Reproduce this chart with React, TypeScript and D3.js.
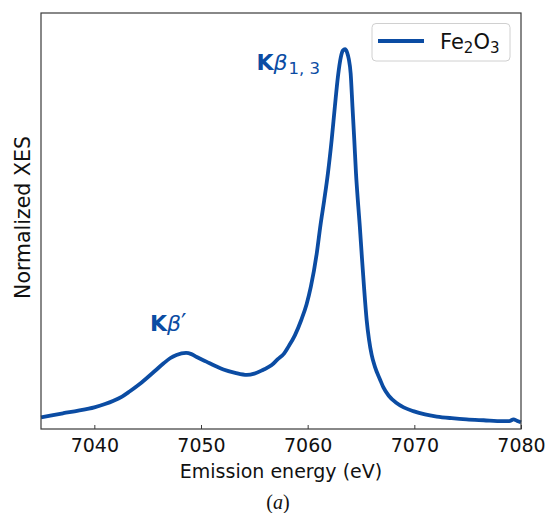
import React, { useEffect, useRef } from 'react';
import * as d3 from 'd3';

// emission energy (eV) and normalized intensity
const energy = [
  7035.0, 7036.0, 7037.1, 7038.5, 7040.0, 7041.0, 7041.8, 7042.6, 7043.3, 7044.1,
  7044.9, 7045.7, 7046.5, 7047.1, 7047.7, 7048.6, 7049.1, 7049.6, 7050.5, 7051.3,
  7052.1, 7053.2, 7054.3, 7055.0, 7055.8, 7056.6, 7057.2, 7057.8, 7058.2, 7058.8,
  7059.4, 7059.9, 7060.3, 7060.85, 7061.2, 7061.55, 7061.9, 7062.25, 7062.55, 7062.85,
  7063.1, 7063.3, 7063.5, 7063.7, 7063.85, 7064.03, 7064.2, 7064.37, 7064.53, 7064.75,
  7064.88, 7065.06, 7065.28, 7065.53, 7065.75, 7066.0, 7066.3, 7066.8, 7067.1, 7067.6,
  7068.3, 7069.0, 7069.9, 7071.0, 7072.1, 7073.5, 7074.9, 7076.5, 7078.3, 7078.9,
  7079.3, 7079.6, 7080.0,
];
const intensity = [
  0.028, 0.033, 0.038, 0.044, 0.052, 0.060, 0.068, 0.078, 0.090, 0.105,
  0.122, 0.140, 0.158, 0.170, 0.178, 0.183, 0.180, 0.173, 0.162, 0.152,
  0.143, 0.135, 0.130, 0.133, 0.142, 0.153, 0.168, 0.182, 0.198, 0.225,
  0.262, 0.300, 0.342, 0.422, 0.490, 0.550, 0.615, 0.695, 0.775, 0.850,
  0.893, 0.910, 0.913, 0.905, 0.890, 0.855, 0.775, 0.695, 0.615, 0.534,
  0.490, 0.422, 0.342, 0.262, 0.215, 0.178, 0.150, 0.118, 0.100, 0.080,
  0.063, 0.052, 0.043, 0.035, 0.030, 0.026, 0.023, 0.021, 0.019, 0.019,
  0.023, 0.020, 0.016,
];
const xTicks = [7040, 7050, 7060, 7070, 7080];

const BLUE = '#0b4ca3';
const FONT = 'DejaVu Sans, sans-serif';

const App = () => {
  const svgRef = useRef<SVGSVGElement>(null);

  useEffect(() => {
    const svg = d3.select(svgRef.current);
    svg.selectAll('*').remove();

    const margin = { top: 13, right: 25, bottom: 84, left: 41 };
    const W = 546, H = 513;
    const width = W - margin.left - margin.right;
    const height = H - margin.top - margin.bottom;

    const x = d3.scaleLinear().domain([7035, 7080]).range([0, width]);
    const y = d3.scaleLinear().domain([0, 1]).range([height, 0]);

    const g = svg.append('g').attr('transform', `translate(${margin.left},${margin.top})`);

    const pts = energy.map((e, i) => [e, intensity[i]] as [number, number]);
    g.append('path')
      .datum(pts)
      .attr('fill', 'none')
      .attr('stroke', BLUE)
      .attr('stroke-width', 3.8)
      .attr('stroke-linejoin', 'round')
      .attr('d', d3.line<[number, number]>()
        .x(d => x(d[0]))
        .y(d => y(d[1]))
        .curve(d3.curveMonotoneX));

    // frame
    g.append('rect')
      .attr('width', width).attr('height', height)
      .attr('fill', 'none').attr('stroke', '#3a3a3a').attr('stroke-width', 1.2);

    // x axis, ticks pointing inward
    const xAxis = g.append('g')
      .attr('transform', `translate(0,${height})`)
      .call(d3.axisBottom(x).tickValues(xTicks).tickSizeInner(-4).tickSizeOuter(0).tickPadding(10).tickFormat(d3.format('d')));
    xAxis.select('.domain').remove();
    xAxis.selectAll('line').attr('stroke', '#3a3a3a').attr('stroke-width', 1);
    xAxis.selectAll('text')
      .attr('font-family', FONT).attr('font-size', 19).attr('fill', '#111');

    // axis titles
    svg.append('text')
      .attr('x', 281).attr('y', 478)
      .attr('text-anchor', 'middle')
      .attr('font-family', FONT).attr('font-size', 19).attr('fill', '#111')
      .text('Emission energy (eV)');

    svg.append('text')
      .attr('transform', 'translate(29.5,217.5) rotate(-90)')
      .attr('text-anchor', 'middle')
      .attr('font-family', FONT).attr('font-size', 20.5).attr('fill', '#111')
      .text('Normalized XES');

    // legend
    const lg = svg.append('g');
    lg.append('rect')
      .attr('x', 372).attr('y', 23.5).attr('width', 138).attr('height', 37.5)
      .attr('rx', 4).attr('fill', '#fff').attr('fill-opacity', 0.8)
      .attr('stroke', '#d0d0d0').attr('stroke-width', 1);
    lg.append('line')
      .attr('x1', 378).attr('x2', 424).attr('y1', 41).attr('y2', 41)
      .attr('stroke', BLUE).attr('stroke-width', 3.8);
    const lt = lg.append('text')
      .attr('x', 440).attr('y', 49)
      .attr('font-family', FONT).attr('font-size', 21).attr('fill', '#111');
    lt.append('tspan').text('Fe');
    lt.append('tspan').attr('font-size', 15).attr('dy', 4).text('2');
    lt.append('tspan').attr('dy', -4).text('O');
    lt.append('tspan').attr('font-size', 15).attr('dy', 4).text('3');

    // peak annotations
    const ann = (xp: number, yp: number, sub: string | null, prime: boolean) => {
      const t = svg.append('text')
        .attr('x', xp).attr('y', yp)
        .attr('font-family', FONT).attr('font-size', 22).attr('fill', BLUE);
      t.append('tspan').attr('font-weight', 'bold').text('K');
      t.append('tspan').attr('font-style', 'italic').text('β');
      if (prime) t.append('tspan').attr('font-size', 24).text('′');
      if (sub) t.append('tspan').attr('font-size', 16.5).attr('dy', 4).attr('dx', 1).text(sub);
    };
    ann(256.5, 69.5, '1, 3', false);
    ann(150, 330.5, null, true);

    // panel caption
    svg.append('text')
      .attr('x', 278).attr('y', 509)
      .attr('text-anchor', 'middle')
      .attr('font-family', 'Liberation Serif, serif').attr('font-size', 20).attr('fill', '#111')
      .html('(<tspan font-style="italic">a</tspan>)');
  }, []);

  return (
    <svg ref={svgRef} width={546} height={513}
      style={{ position: 'absolute', left: 0, top: 0, background: '#fff' }} />
  );
};

export default App;
